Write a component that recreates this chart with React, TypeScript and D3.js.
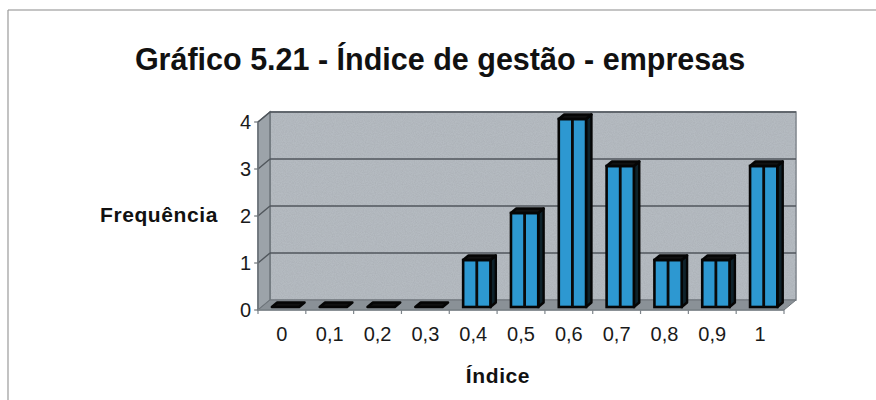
import * as d3 from "d3";

const categories = ["0", "0,1", "0,2", "0,3", "0,4", "0,5", "0,6", "0,7", "0,8", "0,9", "1"];
const frequencies = [0, 0, 0, 0, 1, 2, 4, 3, 1, 1, 3];
const yTicks = [0, 1, 2, 3, 4];

const W = 876;
const H = 400;
// front plane of the plot
const X0 = 258;
const X1 = 784;
const Y0 = 310;
const YTOP = 122;
// 3d depth offset
const DX = 12;
const DY = -10;
const F1 = 0.3;
const F2 = 0.75;

const FONT = "Arial, 'Liberation Sans', Helvetica, sans-serif";

export default function App() {
  const x = d3
    .scaleBand<string>()
    .domain(categories)
    .range([X0, X1])
    .paddingInner(0.43)
    .paddingOuter(0.215);
  const y = d3.scaleLinear().domain([0, 4]).range([Y0, YTOP]);
  const step = x.step();

  const pts = (p: [number, number][]) => p.map((d) => d.join(",")).join(" ");

  const wall: [number, number][] = [
    [X0 + DX, YTOP + DY],
    [X1 + DX, YTOP + DY],
    [X1 + DX, Y0 + DY],
    [X0 + DX, Y0 + DY],
  ];
  const side: [number, number][] = [
    [X0, YTOP],
    [X0 + DX, YTOP + DY],
    [X0 + DX, Y0 + DY],
    [X0, Y0],
  ];
  const floor: [number, number][] = [
    [X0, Y0],
    [X0 + DX, Y0 + DY],
    [X1 + DX, Y0 + DY],
    [X1, Y0],
  ];

  return (
    <svg width={W} height={H} style={{ display: "block", position: "absolute", left: 0, top: 0 }}>
      <defs>
        <filter id="grain" x="0" y="0" width="100%" height="100%">
          <feTurbulence type="fractalNoise" baseFrequency="0.9" numOctaves="2" seed="3" />
          <feColorMatrix
            type="matrix"
            values="0 0 0 0 0.35  0 0 0 0 0.37  0 0 0 0 0.4  0 0 0 1.2 -0.35"
          />
          <feComposite in2="SourceGraphic" operator="in" />
        </filter>
        <clipPath id="wallClip">
          <polygon points={pts(wall)} />
        </clipPath>
      </defs>
      <rect x={0} y={0} width={W} height={H} fill="#ffffff" />
      {/* outer frame */}
      <line x1={8} x2={W} y1={10} y2={10} stroke="#8a8a8a" strokeWidth={1.2} />
      <line x1={8} x2={8} y1={10} y2={H} stroke="#9a9a9a" strokeWidth={1.2} />

      <text
        x={440}
        y={70}
        textAnchor="middle"
        fontFamily={FONT}
        fontWeight="bold"
        fontSize={30.5}
        fill="#111"
      >
        Gráfico 5.21 - Índice de gestão - empresas
      </text>

      {/* walls */}
      <polygon points={pts(wall)} fill="#b5bbc1" stroke="#7d848a" strokeWidth={1.5} />
      <rect
        x={X0 + DX}
        y={YTOP + DY}
        width={X1 - X0}
        height={Y0 - YTOP}
        fill="#fff"
        filter="url(#grain)"
        clipPath="url(#wallClip)"
        opacity={0.55}
      />
      <polygon points={pts(side)} fill="#9ca3a9" stroke="#6e757b" strokeWidth={1.5} />
      <polygon points={pts(floor)} fill="#8a9197" stroke="#6e757b" strokeWidth={1} />

      {/* gridlines */}
      {yTicks
        .filter((t) => t > 0)
        .map((t) => (
          <g key={t}>
            <line
              x1={X0 + DX}
              x2={X1 + DX}
              y1={y(t) + DY}
              y2={y(t) + DY}
              stroke="#50565c"
              strokeWidth={1.6}
            />
            <line x1={X0} x2={X0 + DX} y1={y(t)} y2={y(t) + DY} stroke="#50565c" strokeWidth={1.4} />
          </g>
        ))}

      {/* axes */}
      <line x1={X0} x2={X0} y1={YTOP} y2={Y0} stroke="#6e757b" strokeWidth={1.5} />
      <line x1={X0} x2={X1} y1={Y0} y2={Y0} stroke="#7d848a" strokeWidth={1.5} />
      {yTicks.map((t) => (
        <g key={t}>
          <line x1={X0 - 4} x2={X0} y1={y(t)} y2={y(t)} stroke="#6e757b" strokeWidth={1.2} />
          <text
            x={251}
            y={y(t)}
            dy="0.36em"
            textAnchor="end"
            fontFamily={FONT}
            fontSize={20}
            fill="#1a1a1a"
          >
            {t}
          </text>
        </g>
      ))}
      {d3.range(categories.length + 1).map((i) => (
        <line
          key={i}
          x1={X0 + i * step}
          x2={X0 + i * step}
          y1={Y0}
          y2={Y0 + 4}
          stroke="#7d848a"
          strokeWidth={1.2}
        />
      ))}

      {/* bars */}
      {categories.map((c, i) => {
        const v = frequencies[i];
        const bx = (x(c) ?? 0) + F1 * DX;
        const bw = x.bandwidth();
        const top = y(v) + F1 * DY;
        const bot = Y0 + F1 * DY;
        const ddx = (F2 - F1) * DX;
        const ddy = (F2 - F1) * DY;
        const topFace: [number, number][] = [
          [bx, top],
          [bx + ddx, top + ddy],
          [bx + bw + ddx, top + ddy],
          [bx + bw, top],
        ];
        const sideFace: [number, number][] = [
          [bx + bw, top],
          [bx + bw + ddx, top + ddy],
          [bx + bw + ddx, bot + ddy],
          [bx + bw, bot],
        ];
        return (
          <g key={c}>
            {v > 0 && (
              <>
                <polygon points={pts(sideFace)} fill="#0e222b" stroke="#050505" strokeWidth={2.4} strokeLinejoin="round" />
                <rect x={bx} y={top} width={bw} height={bot - top} fill="#2d98d1" stroke="#050505" strokeWidth={2.6} />
                <line x1={bx + bw / 2} x2={bx + bw / 2} y1={top} y2={bot} stroke="#0a0a0a" strokeWidth={2.8} />
              </>
            )}
            <polygon points={pts(topFace)} fill="#111" stroke="#050505" strokeWidth={2.6} strokeLinejoin="round" />
          </g>
        );
      })}

      {/* x labels */}
      {categories.map((c) => (
        <text
          key={c}
          x={(x(c) ?? 0) + x.bandwidth() / 2}
          y={341}
          textAnchor="middle"
          fontFamily={FONT}
          fontSize={20}
          fill="#1a1a1a"
        >
          {c}
        </text>
      ))}

      <text
        x={218}
        y={y(2)}
        dy="0.3em"
        textAnchor="end"
        fontFamily={FONT}
        fontWeight="bold"
        fontSize={21}
        letterSpacing={0.6}
        fill="#111"
      >
        Frequência
      </text>
      <text
        x={498}
        y={383}
        textAnchor="middle"
        fontFamily={FONT}
        fontWeight="bold"
        fontSize={21}
        letterSpacing={0.6}
        fill="#111"
      >
        Índice
      </text>
    </svg>
  );
}
